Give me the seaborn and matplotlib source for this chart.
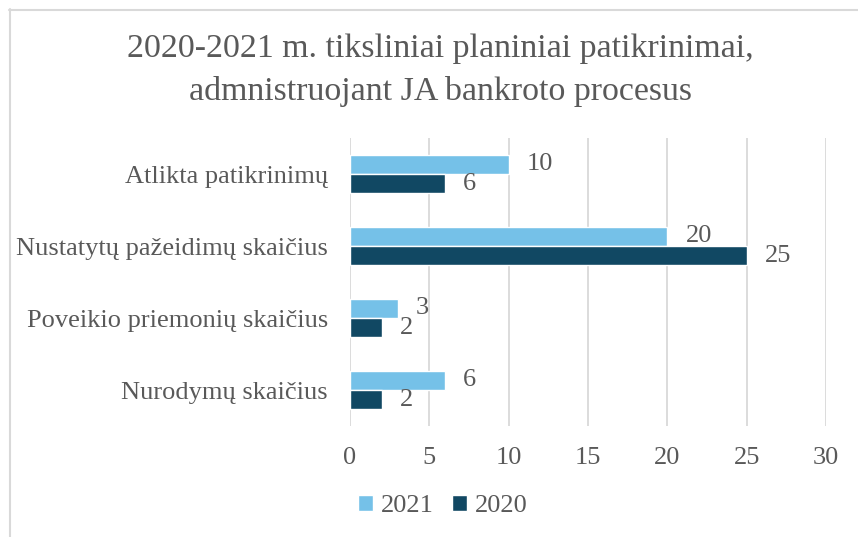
import matplotlib
matplotlib.use('Agg')
import matplotlib.pyplot as plt
import seaborn as sns
import pandas as pd

# duomenys
categories = ['Atlikta patikrinimų', 'Nustatytų pažeidimų skaičius',
              'Poveikio priemonių skaičius', 'Nurodymų skaičius']
years = ['2021', '2020']
values_2021 = [10, 20, 3, 6]
values_2020 = [6, 25, 2, 2]
x_ticks = [0, 5, 10, 15, 20, 25, 30]
title = '2020-2021 m. tiksliniai planiniai patikrinimai,\nadmnistruojant JA bankroto procesus'

colors = {'2021': '#75C1E8', '2020': '#114863'}
txt = '#595959'
fam = ['Liberation Serif', 'DejaVu Serif']

df = pd.DataFrame({
    'kategorija': categories * 2,
    'metai': ['2021'] * len(categories) + ['2020'] * len(categories),
    'reiksme': values_2021 + values_2020,
})

sns.set_style('white')
plt.rcParams['font.family'] = fam

fig = plt.figure(figsize=(8.58, 5.37), dpi=100)
ax = fig.add_axes([350 / 858, 1 - 426 / 537, 476 / 858, 288 / 537])

sns.barplot(data=df, y='kategorija', x='reiksme', hue='metai', hue_order=years,
            order=categories, palette=colors, width=0.53, saturation=1,
            orient='h', ax=ax, legend=True)

for c in ax.containers:
    ax.bar_label(c, padding=13, fontsize=19, color=txt, family=fam)

ax.set_xlim(0, 30)
ax.set_xticks(x_ticks)
ax.xaxis.grid(True, color='#D9D9D9', lw=1.3)
ax.set_axisbelow(True)
for s in ax.spines.values():
    s.set_visible(False)
ax.tick_params(axis='x', length=0, pad=15, labelsize=19, labelcolor=txt)
ax.tick_params(axis='y', length=0, pad=16, labelsize=19, labelcolor=txt)
for t in ax.get_xticklabels() + ax.get_yticklabels():
    t.set_family(fam)
ax.set_xlabel('')
ax.set_ylabel('')

ax.get_legend().remove()
h, l = ax.get_legend_handles_labels()
fig.legend(h, l, loc='center', bbox_to_anchor=(0.516, 0.058), ncol=2, frameon=False,
           prop={'family': fam, 'size': 19}, handlelength=0.55, handleheight=0.55,
           handletextpad=0.3, columnspacing=0.7, labelcolor=txt)

fig.text(0.513, 0.870, title, ha='center', va='center', fontsize=24.4,
         color=txt, linespacing=1.5, family=fam)

# rėmelis
fig.add_artist(plt.Line2D([9 / 858, 1], [1 - 9.5 / 537, 1 - 9.5 / 537],
                          color='#D9D9D9', lw=1.5, transform=fig.transFigure))
fig.add_artist(plt.Line2D([9.5 / 858, 9.5 / 858], [0, 1 - 9 / 537],
                          color='#D9D9D9', lw=1.5, transform=fig.transFigure))

fig.savefig('out.png', dpi=100)
